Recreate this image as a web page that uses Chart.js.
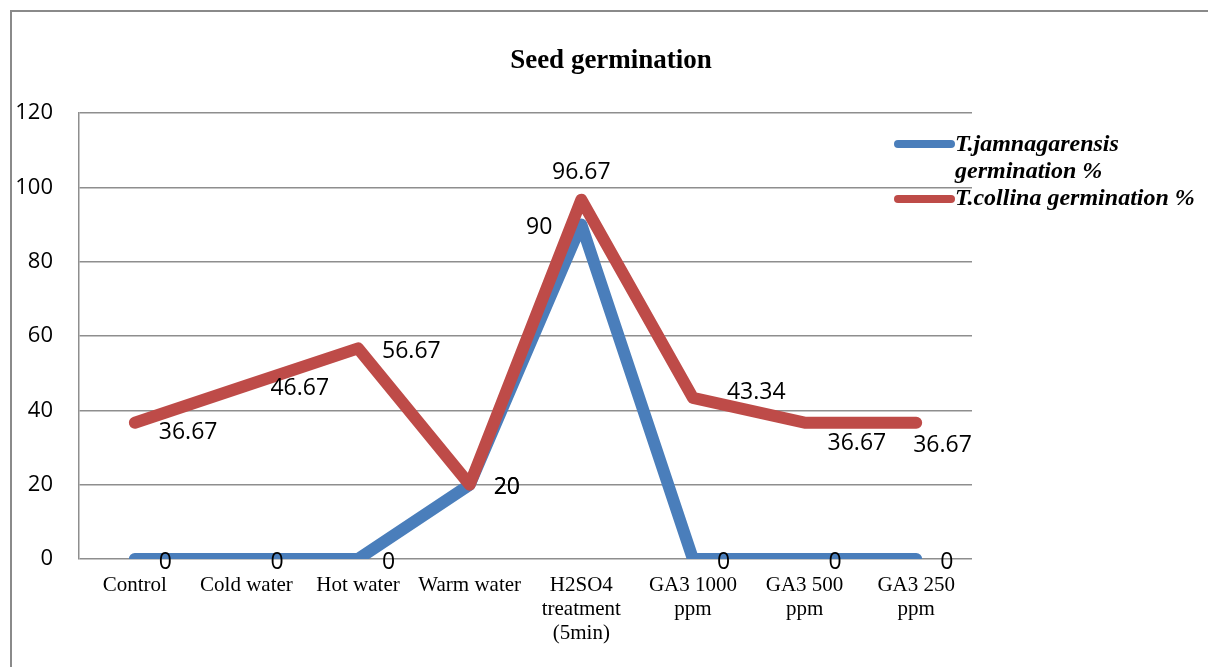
<!DOCTYPE html>
<html>
<head>
<meta charset="utf-8">
<script src="https://cdn.jsdelivr.net/npm/chart.js@4"></script>
<style>
  html, body { margin: 0; padding: 0; background: #fff; overflow: hidden; }
  #frame { position: absolute; left: 10px; top: 10px; width: 1400px; height: 900px; border: 2px solid #8a8a8a; }
  #wrap { position: absolute; left: 0; top: 0; width: 1208px; height: 667px; }
</style>
</head>
<body>
<div id="frame"></div>
<div id="wrap"><canvas id="chart"></canvas></div>
<script>
// data
const categories = [
    'Control', 'Cold water', 'Hot water', 'Warm water',
    ['H2SO4', 'treatment', '(5min)'], ['GA3 1000', 'ppm'], ['GA3 500', 'ppm'], ['GA3 250', 'ppm']
];
const jamnagarensis = [0, 0, 0, 20, 90, 0, 0, 0];
const collina = [36.67, 46.67, 56.67, 20, 96.67, 43.34, 36.67, 36.67];
const yTicks = [0, 20, 40, 60, 80, 100, 120];

const seriesNames = ['T.jamnagarensis germination %', 'T.collina germination %'];
const BLUE = '#4a7ebb';
const RED = '#be4b48';
const NUM_FONT = '23px "Open Sans"';

// where each value label sits (default: right of the point)
const labelTweaks = {
    '1:0': { dx: 24, dy: 10 },
    '1:4': { dx: 0, dy: -27, align: 'center' },
    '0:4': { dx: -29, dy: 3, align: 'right' },
    '1:5': { dx: 34, dy: -5 },
    '1:6': { dx: 23, dy: 21 },
    '1:7': { dx: -3, dy: 23 }
};

const valueLabels = {
    id: 'valueLabels',
    afterDatasetsDraw(chart) {
        const ctx = chart.ctx;
        ctx.save();
        ctx.font = NUM_FONT;
        ctx.fillStyle = '#000';
        ctx.textBaseline = 'middle';
        chart.data.datasets.forEach((ds, di) => {
            const meta = chart.getDatasetMeta(di);
            meta.data.forEach((pt, i) => {
                const t = labelTweaks[di + ':' + i] || { dx: 24, dy: 3 };
                ctx.textAlign = t.align || 'left';
                ctx.fillText(String(ds.data[i]), pt.x + t.dx, pt.y + t.dy);
            });
        });
        ctx.restore();
    }
};

const titleAndLegend = {
    id: 'titleAndLegend',
    afterDraw(chart) {
        const ctx = chart.ctx;
        ctx.save();
        ctx.fillStyle = '#000';
        ctx.textBaseline = 'middle';
        ctx.textAlign = 'center';
        ctx.font = 'bold 27px "Liberation Serif"';
        ctx.fillText('Seed germination', 611, 61);

        // legend
        ctx.textAlign = 'left';
        ctx.font = 'bold italic 24px "Liberation Serif"';
        ctx.lineCap = 'round';
        ctx.lineWidth = 8;
        ctx.strokeStyle = BLUE;
        ctx.beginPath(); ctx.moveTo(898, 144); ctx.lineTo(951, 144); ctx.stroke();
        ctx.fillText('T.jamnagarensis', 955, 145);
        ctx.fillText('germination %', 955, 172);
        ctx.strokeStyle = RED;
        ctx.beginPath(); ctx.moveTo(898, 199); ctx.lineTo(951, 199); ctx.stroke();
        ctx.fillText(seriesNames[1], 955, 199);
        ctx.restore();
    }
};

const ctx = document.getElementById('chart').getContext('2d');
new Chart(ctx, {
    type: 'line',
    data: {
        labels: categories,
        datasets: [{
            label: seriesNames[0],
            data: jamnagarensis,
            borderColor: BLUE,
            backgroundColor: BLUE,
            borderWidth: 12,
            borderCapStyle: 'round',
            borderJoinStyle: 'round',
            pointRadius: 0,
            tension: 0,
            order: 1
        }, {
            label: seriesNames[1],
            data: collina,
            borderColor: RED,
            backgroundColor: RED,
            borderWidth: 12,
            borderCapStyle: 'round',
            borderJoinStyle: 'round',
            pointRadius: 0,
            tension: 0,
            order: 0
        }]
    },
    options: {
        responsive: true,
        maintainAspectRatio: false,
        animation: false,
        layout: { padding: { left: 0, top: 113, right: 236, bottom: 0 } },
        plugins: {
            legend: { display: false },
            title: { display: false },
            tooltip: { enabled: false }
        },
        scales: {
            x: {
                offset: true,
                grid: { display: false, drawTicks: false },
                border: { display: false },
                ticks: {
                    autoSkip: false,
                    maxRotation: 0,
                    padding: 14,
                    color: '#000',
                    font: { family: '"Liberation Serif"', size: 21, lineHeight: 24 / 21 }
                },
                afterFit(scale) { scale.height = 108; }
            },
            y: {
                min: 0,
                max: 120,
                afterBuildTicks(scale) { scale.ticks = yTicks.map(v => ({ value: v })); },
                grid: { color: '#8e8e8e', lineWidth: 1.5, drawTicks: false },
                border: { display: true, color: '#8e8e8e', width: 1.5 },
                ticks: {
                    padding: 26,
                    color: '#000',
                    font: { family: '"Open Sans"', size: 22 }
                },
                afterFit(scale) { scale.width = 79; }
            }
        }
    },
    plugins: [valueLabels, titleAndLegend]
});
</script>
</body>
</html>
